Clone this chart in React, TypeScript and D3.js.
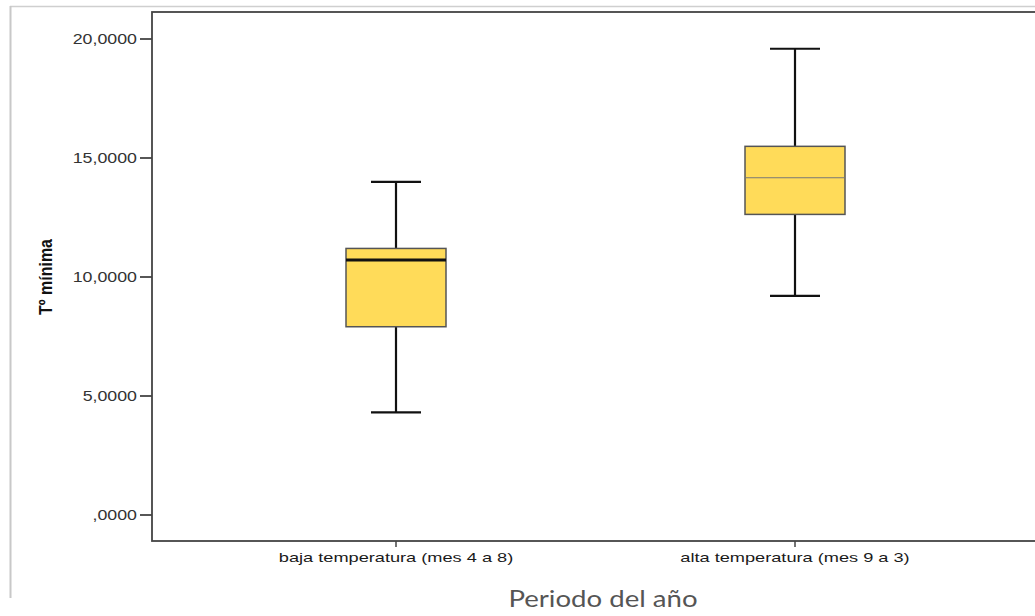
import * as React from "react";
import * as d3 from "d3";

const categories = ["baja temperatura (mes 4 a 8)", "alta temperatura (mes 9 a 3)"];
const lowWhisker = [4.31, 9.21];
const q1 = [7.91, 12.63];
const median = [10.71, 14.17];
const q3 = [11.2, 15.49];
const highWhisker = [14.0, 19.59];
const yTicks = [0, 5, 10, 15, 20];

const fmt = (v: number) => (v === 0 ? ",0000" : `${v},0000`);

export default function App() {
  const width = 1035;
  const height = 616;
  const left = 152;
  const right = 1040;
  const top = 12;
  const bottom = 541;

  const y = d3.scaleLinear().domain([0, 20]).range([515, 39]);
  // band centres land at ~396 and ~795 in the reference
  const x = d3.scaleBand<string>().domain(categories).range([196.5, 994.5]).padding(0);
  const boxW = 100;
  const capW = 50;

  return (
    <svg
      width={width}
      height={height}
      style={{ position: "absolute", left: 0, top: 0, background: "#fff" }}
      fontFamily="Liberation Sans, Arial, sans-serif"
    >
      {/* outer frame */}
      <line x1={10} x2={width} y1={6.5} y2={6.5} stroke="#cfcfcf" strokeWidth={1.5} />
      <line x1={10.5} x2={10.5} y1={6} y2={598} stroke="#c8c8c8" strokeWidth={2} />

      {/* plot frame */}
      <rect x={left} y={top} width={right - left} height={bottom - top} fill="none" stroke="#444" strokeWidth={1.8} />

      {/* y axis */}
      {yTicks.map((t) => (
        <g key={t}>
          <line x1={140} x2={left} y1={y(t)} y2={y(t)} stroke="#444" strokeWidth={1.8} />
          <g transform={`translate(137,${y(t)}) scale(1.27,1)`}>
            <text dy="0.35em" textAnchor="end" fontSize={14} fill="#333">
              {fmt(t)}
            </text>
          </g>
        </g>
      ))}
      <g transform={`translate(52,277) rotate(-90) scale(1,1.2)`}>
        <text textAnchor="middle" fontSize={16} fontWeight="bold" fill="#111">
          Tº mínima
        </text>
      </g>

      {/* x axis */}
      {categories.map((c) => {
        const cx = (x(c) as number) + x.bandwidth() / 2;
        return (
          <g key={c}>
            <line x1={cx} x2={cx} y1={bottom} y2={bottom + 6} stroke="#444" strokeWidth={1.5} />
            <g transform={`translate(${cx},562) scale(1.4,1)`}>
              <text textAnchor="middle" fontSize={13} fill="#1a1a1a">
                {c}
              </text>
            </g>
          </g>
        );
      })}
      <g transform="translate(603,607) scale(1.2,1)">
        <text textAnchor="middle" fontSize={23} fill="#555" fontFamily="Lato, Noto Sans, sans-serif">
          Periodo del año
        </text>
      </g>

      {/* boxes */}
      {categories.map((c, i) => {
        const cx = (x(c) as number) + x.bandwidth() / 2;
        return (
          <g key={c}>
            <line x1={cx} x2={cx} y1={y(highWhisker[i])} y2={y(q3[i])} stroke="#111" strokeWidth={2.2} />
            <line x1={cx} x2={cx} y1={y(q1[i])} y2={y(lowWhisker[i])} stroke="#111" strokeWidth={2.2} />
            <line x1={cx - capW / 2} x2={cx + capW / 2} y1={y(highWhisker[i])} y2={y(highWhisker[i])} stroke="#111" strokeWidth={2.2} />
            <line x1={cx - capW / 2} x2={cx + capW / 2} y1={y(lowWhisker[i])} y2={y(lowWhisker[i])} stroke="#111" strokeWidth={2.2} />
            <rect
              x={cx - boxW / 2}
              y={y(q3[i])}
              width={boxW}
              height={y(q1[i]) - y(q3[i])}
              fill="#FFDB59"
              stroke="#555"
              strokeWidth={1.5}
            />
            <line
              x1={cx - boxW / 2}
              x2={cx + boxW / 2}
              y1={y(median[i])}
              y2={y(median[i])}
              stroke={i === 0 ? "#111" : "#777"}
              strokeWidth={i === 0 ? 3 : 1.2}
            />
          </g>
        );
      })}
    </svg>
  );
}
